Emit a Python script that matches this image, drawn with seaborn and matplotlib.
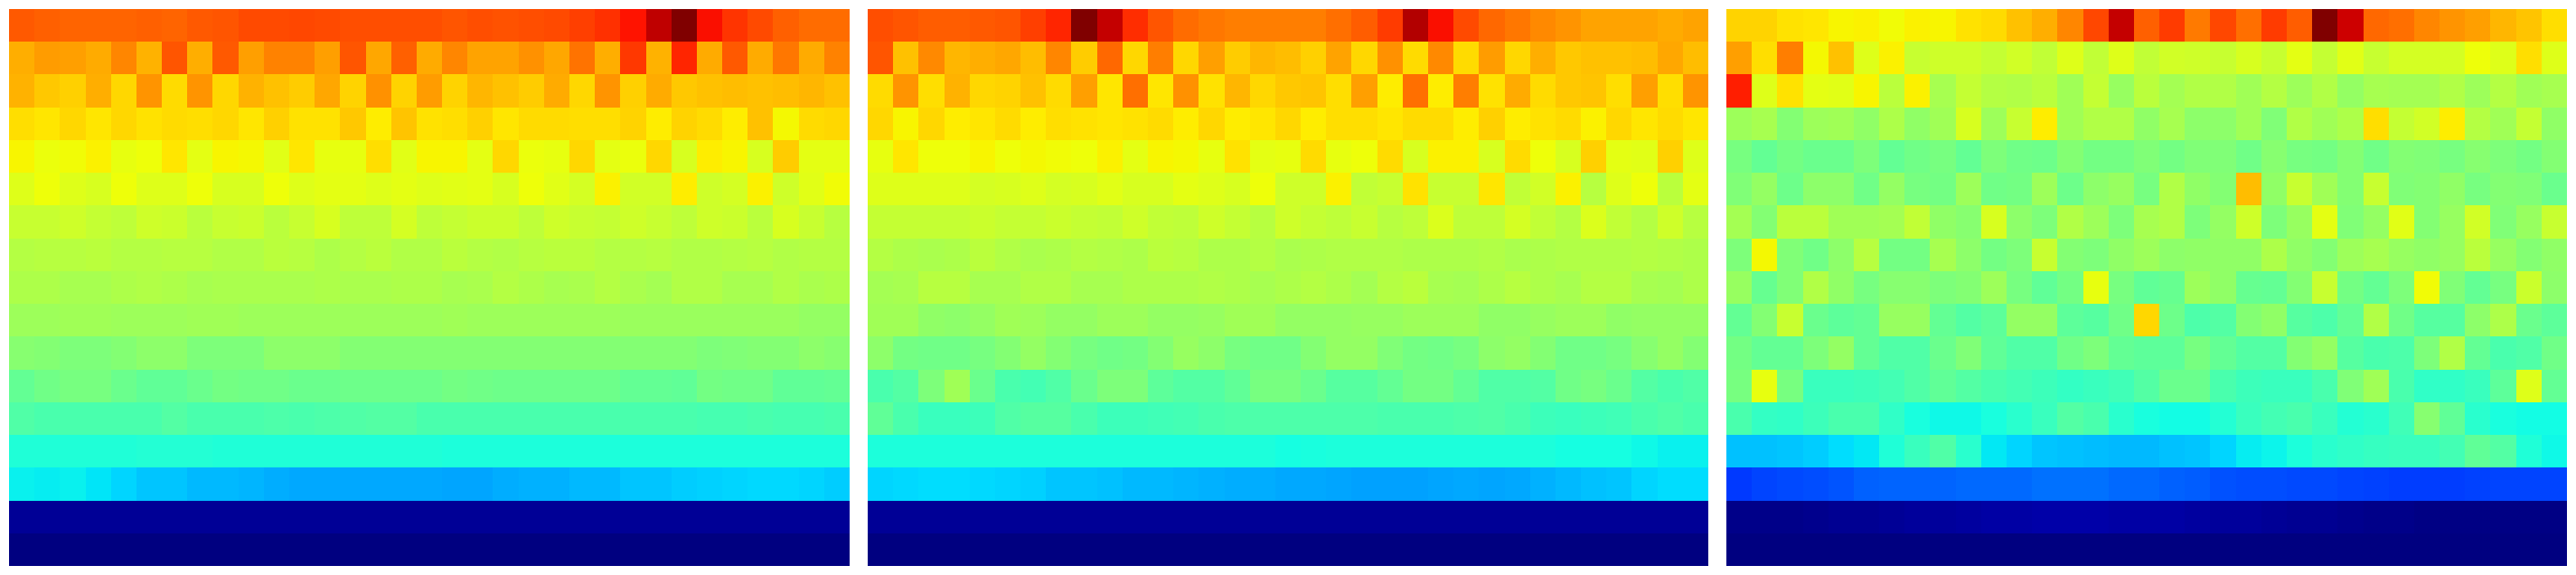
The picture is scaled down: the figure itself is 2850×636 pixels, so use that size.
import matplotlib
matplotlib.use('Agg')
import matplotlib.pyplot as plt
import seaborn as sns
import numpy as np

# values, in thousandths of the jet range
left_panel = [
    [815,808,804,804,804,806,804,815,817,830,830,835,830,827,825,825,825,820,825,822,825,830,842,859,889,945,1000,892,855,830,806,796,796],
    [724,745,742,728,766,720,820,724,815,742,770,773,742,817,733,805,728,766,738,738,757,733,786,724,850,720,870,728,815,728,785,730,770],
    [720,698,690,724,680,750,677,750,680,720,707,695,733,685,757,685,745,685,715,707,695,730,680,750,690,730,698,707,710,707,710,715,707],
    [673,667,680,665,680,670,677,673,680,665,690,670,670,698,658,702,670,673,690,667,677,677,673,673,685,658,685,677,658,707,648,677,680],
    [652,636,642,655,632,640,665,628,650,645,622,667,632,632,673,622,652,652,628,680,636,632,680,628,636,680,612,660,652,612,695,628,628],
    [618,637,618,612,637,618,618,637,612,612,637,618,628,628,618,628,618,622,628,612,637,622,607,655,603,603,658,598,607,655,598,622,642],
    [592,592,601,586,582,601,597,577,592,597,577,592,612,582,582,606,582,586,597,597,582,601,592,586,601,592,582,601,597,577,612,592,572],
    [569,573,573,578,569,569,573,573,564,564,578,573,559,569,578,564,564,578,569,564,573,578,578,569,569,573,564,564,569,573,564,569,569],
    [560,560,552,552,560,565,560,552,556,556,556,556,560,556,556,560,560,552,556,570,560,552,556,570,556,550,565,565,552,552,565,556,560],
    [540,540,545,545,540,540,540,545,545,540,540,540,540,540,540,540,540,545,540,540,540,540,540,540,538,538,538,538,538,538,538,528,528],
    [515,510,500,500,510,520,520,500,500,500,520,520,520,510,510,510,510,510,510,510,510,510,510,510,510,510,510,500,505,510,510,520,515],
    [472,486,496,496,477,467,467,477,491,486,486,477,477,482,482,482,482,491,486,482,482,482,482,482,472,472,467,491,486,486,467,467,472],
    [447,440,440,440,438,440,452,438,438,438,445,440,445,447,452,452,438,438,438,438,438,438,438,440,440,438,438,436,436,438,436,436,438],
    [388,388,388,388,388,392,392,392,388,388,388,388,388,388,388,388,388,385,385,385,385,385,385,385,385,385,385,385,385,385,385,385,385],
    [360,358,360,350,333,320,317,305,305,301,293,290,290,290,290,290,290,286,286,293,297,297,305,305,317,320,325,329,333,337,337,333,325],
    [22,22,22,22,22,22,22,22,22,22,22,22,22,22,22,22,22,22,22,22,22,22,22,22,22,22,22,22,22,22,22,22,22],
    [0,0,0,0,0,0,0,0,0,0,0,0,0,0,0,0,0,0,0,0,0,0,0,0,0,0,0,0,0,0,0,0,0],
]

middle_panel = [
    [828,817,812,812,815,820,840,868,1000,940,860,817,796,784,775,775,775,775,790,810,846,955,893,830,800,784,762,750,738,736,735,730,735],
    [817,707,762,715,724,733,710,766,695,800,680,775,680,740,695,715,710,690,736,680,757,677,762,677,745,680,724,698,707,707,710,733,710],
    [677,750,673,720,680,685,707,677,740,665,790,665,757,670,715,680,698,702,673,740,660,790,660,775,670,728,677,698,702,673,740,673,750],
    [680,650,680,660,665,677,660,673,670,665,670,677,658,680,658,665,680,658,673,673,665,677,677,658,690,658,670,677,655,680,665,677,665],
    [632,665,637,637,650,637,648,642,637,653,628,652,648,632,670,628,632,677,632,637,677,612,653,653,612,677,637,612,690,628,622,690,618],
    [618,618,618,618,607,612,618,607,612,622,612,612,628,618,612,637,598,598,655,583,592,670,592,592,665,583,603,655,573,618,637,578,628],
    [588,588,588,588,594,588,588,594,588,584,599,584,579,599,588,574,599,586,579,591,574,579,614,579,579,608,584,569,614,584,569,599,574],
    [569,559,555,559,578,564,555,559,569,564,559,578,573,559,559,569,555,560,564,564,564,559,559,559,564,555,559,564,564,564,569,564,559],
    [550,554,573,573,554,554,564,564,554,554,559,559,559,564,559,554,559,569,559,550,569,578,554,550,559,573,559,554,569,569,554,550,559],
    [545,545,525,520,530,545,540,530,530,540,540,530,530,535,545,545,530,530,530,535,535,540,540,540,525,525,535,540,540,525,530,530,530],
    [520,491,486,486,496,510,530,510,496,486,491,510,535,520,496,486,486,510,530,530,506,491,486,496,520,530,510,486,486,496,515,530,510],
    [438,452,500,545,477,438,433,447,477,500,500,462,452,452,467,496,496,477,457,457,472,491,491,472,447,447,452,486,496,477,452,438,447],
    [467,438,418,418,423,447,457,457,438,423,423,428,433,438,442,442,442,442,442,442,438,438,438,442,447,438,423,418,423,428,438,447,438],
    [385,385,385,385,385,385,385,385,385,385,385,385,385,385,385,385,378,380,385,385,385,385,385,385,385,385,385,378,378,378,370,362,362],
    [333,337,340,340,337,333,329,320,317,313,305,305,301,297,293,293,290,290,286,282,282,282,286,290,286,290,297,305,313,320,333,340,340],
    [22,22,22,22,22,22,22,22,22,22,22,22,22,22,22,22,22,22,22,22,22,22,22,22,22,22,22,22,22,22,22,22,22],
    [0,0,0,0,0,0,0,0,0,0,0,0,0,0,0,0,0,0,0,0,0,0,0,0,0,0,0,0,0,0,0,0,0],
]

right_panel = [
    [685,685,670,665,650,653,642,655,652,670,677,707,724,766,835,940,808,845,780,835,790,845,812,1000,930,800,790,766,752,740,715,702,673],
    [740,673,775,648,707,618,653,592,598,598,588,603,583,618,583,618,583,603,598,592,612,592,628,588,622,592,607,607,607,637,618,673,618],
    [875,618,670,628,622,652,578,653,554,588,569,564,578,545,588,535,578,550,564,564,545,569,540,564,530,554,550,550,564,540,569,545,554],
    [540,554,510,540,545,525,559,525,545,612,540,592,658,545,564,564,525,554,520,520,545,506,564,545,559,673,588,603,660,569,545,588,525],
    [496,472,491,477,477,500,472,486,496,472,500,486,482,510,491,491,506,491,506,506,486,515,496,491,510,486,510,506,496,515,500,491,510],
    [506,530,482,520,520,486,530,496,491,540,486,491,540,482,520,535,496,564,525,510,710,525,592,545,510,592,506,510,525,496,510,506,477],
    [550,510,578,578,545,545,550,583,525,515,612,520,500,564,540,500,554,564,500,530,598,500,535,628,506,530,622,510,535,603,506,535,592],
    [500,648,506,486,520,573,491,491,554,520,491,500,592,510,500,525,540,520,525,525,525,559,525,510,540,554,535,525,535,578,535,510,525],
    [535,475,505,565,525,495,515,515,500,510,540,495,467,490,632,495,465,475,540,525,475,470,510,590,490,470,500,642,505,470,495,595,520],
    [472,510,592,477,462,472,535,535,472,452,462,530,530,462,457,486,680,482,442,452,510,525,457,442,472,564,486,457,457,520,559,477,462],
    [491,472,472,500,530,472,447,447,477,506,467,447,447,486,500,472,462,462,496,472,452,452,510,530,457,438,442,500,564,472,438,447,486],
    [496,632,496,418,418,423,433,447,467,452,438,433,423,413,418,428,452,477,477,438,423,418,418,438,506,545,438,408,408,418,462,618,472],
    [438,413,408,423,438,438,408,379,370,370,379,399,418,452,438,399,379,374,374,394,418,433,438,418,394,399,428,515,467,399,379,374,374],
    [313,313,320,325,340,352,389,418,447,399,352,333,317,313,309,305,305,313,317,333,356,365,385,399,408,415,420,420,430,467,452,390,370],
    [180,192,196,200,210,220,223,223,223,227,230,230,235,235,235,230,227,220,215,207,200,200,196,196,192,188,184,184,184,188,192,192,192],
    [9,9,11,13,16,18,22,25,27,30,32,35,38,38,38,35,35,32,29,27,25,22,18,16,13,11,9,7,6,6,6,4,4],
    [0,0,0,0,0,0,0,0,0,0,0,0,0,0,0,0,0,0,0,0,0,0,0,0,0,0,0,0,0,0,0,0,0],
]

fig, axes = plt.subplots(1, 3, figsize=(28.5, 6.36), dpi=100)
fig.subplots_adjust(left=10/2850, right=2840/2850, bottom=10/636, top=626/636, wspace=20/930)

for ax, panel in zip(axes, [left_panel, middle_panel, right_panel]):
    sns.heatmap(np.array(panel), ax=ax, cmap='jet', vmin=0, vmax=1000, cbar=False,
                xticklabels=False, yticklabels=False)

fig.savefig('out.png', dpi=100)
